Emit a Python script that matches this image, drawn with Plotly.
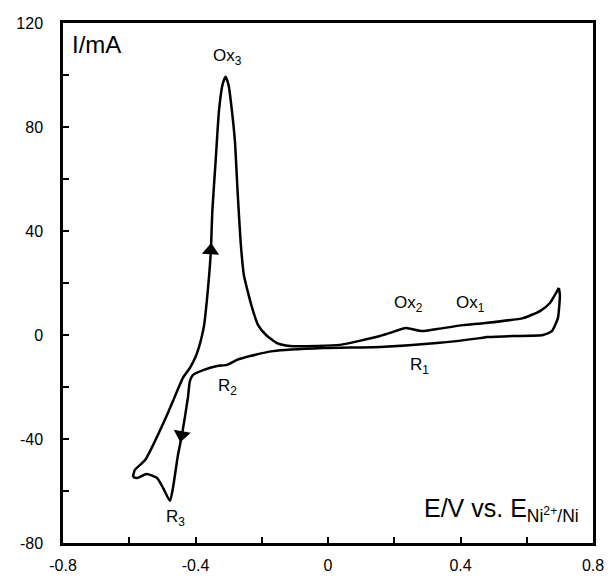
import plotly.graph_objects as go

# ---- data ----
anodic_E = [-0.589, -0.583, -0.552, -0.528, -0.486, -0.468, -0.438, -0.417, -0.400, -0.388, -0.380,
            -0.374, -0.365, -0.354, -0.349, -0.339, -0.329, -0.318, -0.309, -0.300, -0.291,
            -0.281, -0.273, -0.264, -0.254, -0.229, -0.211, -0.187, -0.154, -0.115, -0.033,
            0.036, 0.157, 0.187, 0.235, 0.284, 0.329, 0.408, 0.474, 0.589, 0.640, 0.670, 0.697]
anodic_I = [-54.6, -51.9, -48.1, -42.3, -30.8, -25.4, -16.5, -12.7, -8.5, -4.0, 0.0,
            3.8, 14.2, 31.5, 48.1, 67.3, 86.5, 96.5, 99.3, 96.0, 87.3,
            74.6, 55.4, 36.2, 23.1, 10.4, 3.8, 0.0, -3.1, -4.2, -4.2,
            -3.8, -0.4, 0.8, 2.7, 1.5, 2.3, 3.8, 4.6, 6.5, 9.2, 12.3, 18.1]

cathodic_E = [0.697, 0.700, 0.694, 0.676, 0.649, 0.558, 0.480, 0.459, 0.329, 0.157,
              -0.015, -0.166, -0.235, -0.275, -0.305, -0.335, -0.377, -0.408, -0.417, -0.423,
              -0.441, -0.453, -0.468, -0.477, -0.498, -0.516, -0.547, -0.577, -0.589]
cathodic_I = [18.1, 15.4, 6.5, 1.5, 0.0, -0.4, -0.8, -1.2, -3.1, -4.6,
              -5.0, -6.2, -8.1, -9.6, -11.5, -11.9, -13.5, -15.4, -17.7, -24.2,
              -38.5, -46.2, -58.8, -63.8, -58.8, -55.0, -53.5, -55.0, -54.6]

x_tickvals = [-0.8, -0.4, 0, 0.4, 0.8]
x_ticktext = ["-0.8", "-0.4", "0", "0.4", "0.8"]
x_minor = [-0.6, -0.2, 0.2, 0.6]
y_tickvals = [-80, -40, 0, 40, 80, 120]
y_ticktext = ["-80", "-40", "0", "40", "80", "120"]
y_minor = [-60, -20, 20, 60, 100]

peak_labels = ["Ox<sub>3</sub>", "Ox<sub>2</sub>", "Ox<sub>1</sub>",
               "R<sub>1</sub>", "R<sub>2</sub>", "R<sub>3</sub>"]
peak_E = [-0.302, 0.242, 0.429, 0.275, -0.302, -0.459]
peak_I = [106.9, 12.0, 12.0, -11.9, -20.0, -70.5]

arrow_E = [-0.354, -0.442]
arrow_I = [32.5, -38.4]
arrow_symbols = ["triangle-up", "triangle-down"]
arrow_angles = [4, 10]

FONT = "Arial, Liberation Sans, sans-serif"

fig = go.Figure()
fig.add_trace(go.Scatter(x=anodic_E, y=anodic_I, mode="lines",
                         line=dict(color="black", width=2.5, shape="spline", smoothing=0.5),
                         hoverinfo="skip", showlegend=False))
fig.add_trace(go.Scatter(x=cathodic_E, y=cathodic_I, mode="lines",
                         line=dict(color="black", width=2.5, shape="spline", smoothing=0.5),
                         hoverinfo="skip", showlegend=False))
fig.add_trace(go.Scatter(x=arrow_E, y=arrow_I, mode="markers",
                         marker=dict(symbol=arrow_symbols, angle=arrow_angles, size=15,
                                     color="black", line=dict(width=0)),
                         hoverinfo="skip", showlegend=False))

for t, xe, yi in zip(peak_labels, peak_E, peak_I):
    fig.add_annotation(x=xe, y=yi, text=t, showarrow=False,
                       font=dict(family=FONT, size=17, color="black"),
                       xanchor="center", yanchor="middle")

fig.add_annotation(xref="paper", yref="paper", x=0.013, y=0.958, text="I/mA",
                   showarrow=False, xanchor="left", yanchor="middle",
                   font=dict(family=FONT, size=24, color="black"))
fig.add_annotation(xref="paper", yref="paper", x=0.977, y=0.063,
                   text="E/V vs. E<sub>Ni<sup>2+</sup>/Ni</sub>",
                   showarrow=False, xanchor="right", yanchor="middle",
                   font=dict(family=FONT, size=25, color="black"))

axis_common = dict(showline=True, linecolor="black", linewidth=2.5, mirror=True,
                   ticks="inside", ticklen=6, tickwidth=2, tickcolor="black",
                   showgrid=False, zeroline=False, automargin=False,
                   tickfont=dict(family=FONT, size=16, color="black"))

fig.update_xaxes(range=[-0.8, 0.8], tickmode="array", tickvals=x_tickvals, ticktext=x_ticktext,
                 minor=dict(tickmode="array", tickvals=x_minor, ticks="inside", ticklen=6,
                            tickwidth=2, tickcolor="black"),
                 ticklabelstandoff=6, **axis_common)
fig.update_yaxes(range=[-80, 120], tickmode="array", tickvals=y_tickvals, ticktext=y_ticktext,
                 minor=dict(tickmode="array", tickvals=y_minor, ticks="inside", ticklen=6,
                            tickwidth=2, tickcolor="black"),
                 ticklabelstandoff=14, **axis_common)

fig.update_layout(width=608, height=580, margin=dict(l=63, r=15, t=23, b=37),
                  plot_bgcolor="white", paper_bgcolor="white")

fig.write_html("out.html")
